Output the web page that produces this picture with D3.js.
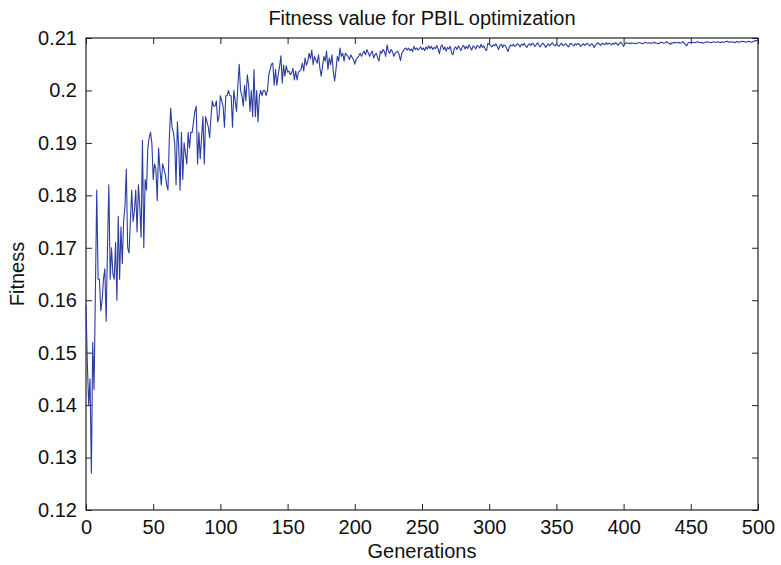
<!DOCTYPE html>
<html>
<head>
<meta charset="utf-8">
<script src="https://cdn.jsdelivr.net/npm/d3@7"></script>
<style>
  html, body { margin: 0; padding: 0; background: #fff; }
  svg text { font-family: "Liberation Sans", Arial, Helvetica, sans-serif; fill: #111; }
</style>
</head>
<body>
<svg id="chart" width="781" height="565"></svg>
<script>
// Best fitness per generation of the PBIL run (generation 0..500)
const fitness = [
  0.159, 0.148, 0.140, 0.145, 0.127, 0.152, 0.143, 0.162, 0.181, 0.164,
  0.164, 0.158, 0.160, 0.164, 0.166, 0.156, 0.170, 0.182, 0.164, 0.170,
  0.165, 0.164, 0.171, 0.160, 0.176, 0.164, 0.174, 0.167, 0.175, 0.178,
  0.185, 0.170, 0.169, 0.175, 0.181, 0.175, 0.177, 0.181, 0.173, 0.182,
  0.178, 0.172, 0.1905, 0.170, 0.183, 0.181, 0.189, 0.191, 0.192, 0.190,
  0.183, 0.186, 0.185, 0.179, 0.189, 0.185, 0.182, 0.186, 0.185, 0.184,
  0.182, 0.181, 0.191, 0.1966, 0.193, 0.192, 0.190, 0.182, 0.194, 0.189,
  0.181, 0.192, 0.183, 0.190, 0.188, 0.186, 0.192, 0.189, 0.192, 0.192,
  0.194, 0.196, 0.197, 0.186, 0.192, 0.187, 0.191, 0.195, 0.186, 0.195,
  0.194, 0.193, 0.191, 0.195, 0.198, 0.197, 0.197, 0.198, 0.194, 0.195,
  0.199, 0.198, 0.197, 0.193, 0.199, 0.199, 0.200, 0.199, 0.199, 0.193,
  0.200, 0.198, 0.196, 0.201, 0.205, 0.200, 0.199, 0.197, 0.201, 0.198,
  0.203, 0.201, 0.196, 0.200, 0.195, 0.204, 0.195, 0.200, 0.194, 0.199,
  0.200, 0.199, 0.200, 0.200, 0.199, 0.200, 0.203, 0.204, 0.205, 0.2052,
  0.201, 0.204, 0.201, 0.203, 0.2045, 0.2066, 0.2014, 0.2048, 0.2027, 0.2047,
  0.2035, 0.2037, 0.2030, 0.2033, 0.2042, 0.2020, 0.2037, 0.2020, 0.2035, 0.2037,
  0.2040, 0.2052, 0.2037, 0.2062, 0.2048, 0.2055, 0.2071, 0.2060, 0.2077, 0.2049,
  0.2065, 0.2058, 0.2052, 0.2068, 0.2043, 0.2027, 0.2046, 0.2065, 0.2056, 0.2075,
  0.2040, 0.2062, 0.2049, 0.2068, 0.2036, 0.2018, 0.2040, 0.2065, 0.2056, 0.2081,
  0.2065, 0.2071, 0.2056, 0.2071, 0.2068, 0.2065, 0.2059, 0.2068, 0.2063, 0.2059,
  0.2050, 0.2059, 0.2062, 0.2066, 0.2071, 0.2065, 0.2071, 0.2075, 0.2068, 0.2078,
  0.2072, 0.2065, 0.2071, 0.2075, 0.2062, 0.2068, 0.2071, 0.2062, 0.2056, 0.2075,
  0.2071, 0.2078, 0.2074, 0.2065, 0.2087, 0.2075, 0.2071, 0.2078, 0.2074, 0.2065,
  0.2071, 0.2073, 0.2075, 0.2068, 0.2057, 0.2071, 0.2075, 0.2079, 0.2081, 0.2077,
  0.2081, 0.2076, 0.2079, 0.2074, 0.2084, 0.2078, 0.2081, 0.2077, 0.2080, 0.2083,
  0.2078, 0.2081, 0.2076, 0.2083, 0.2079, 0.2085, 0.2080, 0.2084, 0.2078, 0.2082,
  0.2080, 0.2086, 0.2079, 0.2070, 0.2084, 0.2087, 0.2078, 0.2083, 0.2075, 0.2082,
  0.2079, 0.2084, 0.2072, 0.2068, 0.2080, 0.2083, 0.2078, 0.2085, 0.2081, 0.2076,
  0.2083, 0.2086, 0.2079, 0.2084, 0.2080, 0.2087, 0.2082, 0.2077, 0.2085, 0.2083,
  0.2079, 0.2086, 0.2084, 0.2081, 0.2088, 0.2082, 0.2085, 0.2079, 0.2076, 0.2090,
  0.2088, 0.2086, 0.2083, 0.2087, 0.2085, 0.2089, 0.2084, 0.2078, 0.2086, 0.2088,
  0.2082, 0.2087, 0.2085, 0.2080, 0.2074, 0.2083, 0.2087, 0.2085, 0.2088, 0.2084,
  0.2086, 0.2089, 0.2087, 0.2083, 0.2088, 0.2086, 0.2090, 0.2085, 0.2082, 0.2087,
  0.2089, 0.2086, 0.2090, 0.2088, 0.2084, 0.2087, 0.2091, 0.2086, 0.2083, 0.2088,
  0.2090, 0.2087, 0.2082, 0.2086, 0.2089, 0.2085, 0.2088, 0.2091, 0.2087, 0.2085,
  0.2089, 0.2086, 0.2084, 0.2088, 0.2090, 0.2085, 0.2087, 0.2089, 0.2086, 0.2083,
  0.2088, 0.2090, 0.2087, 0.2085, 0.2089, 0.2087, 0.2090, 0.2088, 0.2084, 0.2087,
  0.2089, 0.2086, 0.2088, 0.2090, 0.2087, 0.2085, 0.2089, 0.2088, 0.2082, 0.2086,
  0.2089, 0.2091, 0.2088, 0.2086, 0.2090, 0.2089, 0.2087, 0.2091, 0.2088, 0.2090,
  0.2089, 0.2087, 0.2090, 0.2088, 0.2091, 0.2089, 0.2086, 0.2090, 0.2092, 0.2088,
  0.2084, 0.2089, 0.2091, 0.2090, 0.2090, 0.2089, 0.2091, 0.2090, 0.2090, 0.2089,
  0.2090, 0.2091, 0.2091, 0.2090, 0.2089, 0.2090, 0.2092, 0.2091, 0.2090, 0.2091,
  0.2090, 0.2090, 0.2091, 0.2092, 0.2090, 0.2090, 0.2089, 0.2091, 0.2092, 0.2091,
  0.2090, 0.2091, 0.2093, 0.2091, 0.2090, 0.2088, 0.2091, 0.2090, 0.2092, 0.2091,
  0.2091, 0.2092, 0.2090, 0.2091, 0.2093, 0.2090, 0.2088, 0.2085, 0.2091, 0.2092,
  0.2091, 0.2092, 0.2092, 0.2091, 0.2092, 0.2093, 0.2092, 0.2091, 0.2092, 0.2090,
  0.2091, 0.2092, 0.2093, 0.2092, 0.2092, 0.2091, 0.2092, 0.2093, 0.2092, 0.2092,
  0.2093, 0.2092, 0.2091, 0.2093, 0.2092, 0.2092, 0.2093, 0.2094, 0.2092, 0.2093,
  0.2092, 0.2093, 0.2092, 0.2091, 0.2093, 0.2093, 0.2092, 0.2093, 0.2094, 0.2093,
  0.2093, 0.2092, 0.2093, 0.2094, 0.2093, 0.2092, 0.2093, 0.2094, 0.2095, 0.2095,
  0.2096
];

const xTicks = [0, 50, 100, 150, 200, 250, 300, 350, 400, 450, 500];
const yTicks = [0.12, 0.13, 0.14, 0.15, 0.16, 0.17, 0.18, 0.19, 0.20, 0.21];
const xDomain = [0, 500];
const yDomain = [0.12, 0.21];

const titleText = "Fitness value for PBIL optimization";
const xLabelText = "Generations";
const yLabelText = "Fitness";

const margin = { left: 86, right: 23, top: 38, bottom: 55 };
const W = 781, H = 565;
const pw = W - margin.left - margin.right;
const ph = H - margin.top - margin.bottom;

const svg = d3.select("#chart");
const g = svg.append("g").attr("transform", `translate(${margin.left},${margin.top})`);

const x = d3.scaleLinear().domain(xDomain).range([0, pw]);
const y = d3.scaleLinear().domain(yDomain).range([ph, 0]);

const tickLen = 6;
// MATLAB-style labels: trailing zero dropped on 0.20
const fmtY = d => {
  const s = d3.format(".2f")(d);
  return s === "0.20" ? "0.2" : s;
};

// bottom axis with labels, ticks pointing inward
const xAxis = g.append("g").attr("transform", `translate(0,${ph})`)
  .call(d3.axisBottom(x).tickValues(xTicks).tickSizeInner(-tickLen).tickSizeOuter(0).tickPadding(10));
// left axis
const yAxis = g.append("g")
  .call(d3.axisLeft(y).tickValues(yTicks).tickSizeInner(-tickLen).tickSizeOuter(0).tickPadding(9).tickFormat(fmtY));
// top and right mirrored ticks (no labels)
const xTop = g.append("g")
  .call(d3.axisTop(x).tickValues(xTicks).tickSizeInner(-tickLen).tickSizeOuter(0).tickFormat(""));
const yRight = g.append("g").attr("transform", `translate(${pw},0)`)
  .call(d3.axisRight(y).tickValues(yTicks).tickSizeInner(-tickLen).tickSizeOuter(0).tickFormat(""));

[xAxis, yAxis, xTop, yRight].forEach(a => {
  a.select(".domain").remove();
  a.selectAll(".tick line").attr("stroke", "#222").attr("stroke-width", 1);
  a.selectAll(".tick text").attr("font-size", 20).attr("fill", "#111")
    .style("font-family", '"Liberation Sans", Arial, sans-serif');
});

// frame
g.append("rect").attr("x", 0).attr("y", 0).attr("width", pw).attr("height", ph)
  .attr("fill", "none").attr("stroke", "#222").attr("stroke-width", 1.2);

// data line
const line = d3.line().x((d, i) => x(i)).y(d => y(d));
g.append("path").datum(fitness)
  .attr("d", line)
  .attr("fill", "none")
  .attr("stroke", "#2b3ca3")
  .attr("stroke-width", 1.1)
  .attr("stroke-linejoin", "round");

// title and axis labels
svg.append("text").attr("x", margin.left + pw / 2).attr("y", 25)
  .attr("text-anchor", "middle").attr("font-size", 20).text(titleText);
svg.append("text").attr("x", margin.left + pw / 2).attr("y", 558)
  .attr("text-anchor", "middle").attr("font-size", 20).text(xLabelText);
svg.append("text").attr("transform", `translate(24,${margin.top + ph / 2}) rotate(-90)`)
  .attr("text-anchor", "middle").attr("font-size", 20).text(yLabelText);
</script>
</body>
</html>
